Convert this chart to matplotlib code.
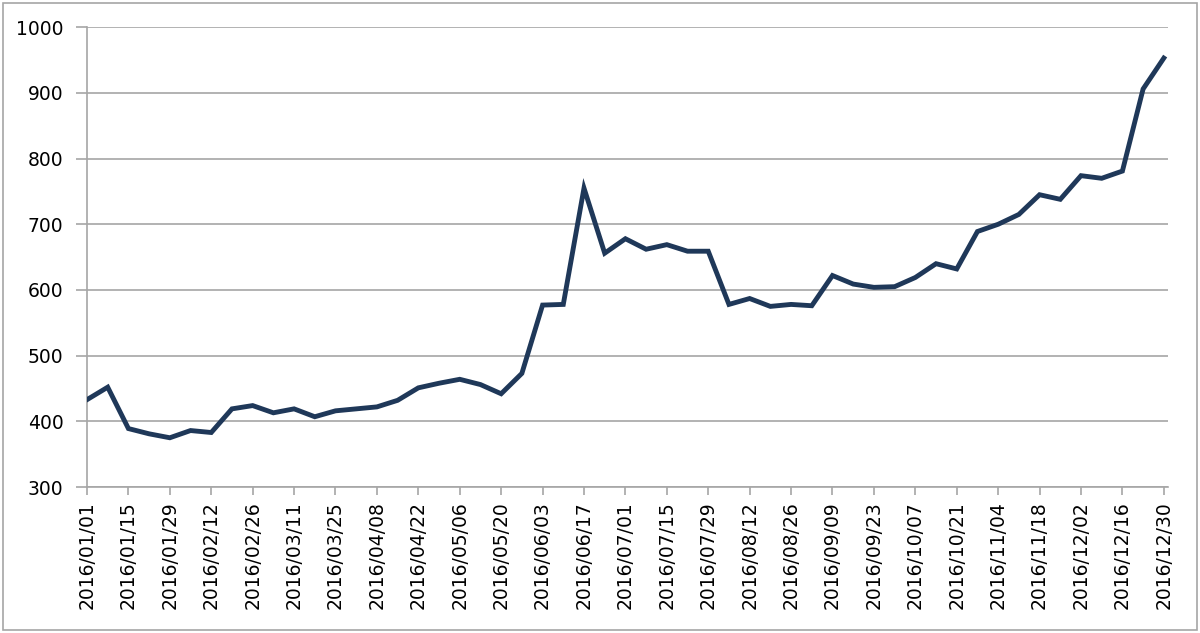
import pandas as pd
import matplotlib
matplotlib.use("Agg")
import matplotlib.pyplot as plt
from matplotlib.patches import Rectangle

# weekly values
dates = pd.date_range("2016-01-01", periods=53, freq="7D")
values = [433, 452, 389, 381, 375, 386, 383, 419, 424, 413,
          419, 407, 416, 419, 422, 432, 451, 458, 464, 456,
          442, 473, 577, 578, 755, 656, 678, 662, 669, 659,
          659, 578, 587, 575, 578, 576, 622, 609, 604, 605,
          619, 640, 632, 689, 700, 715, 745, 738, 774, 770,
          781, 906, 953]
date_labels = [d.strftime("%Y/%m/%d") for d in dates]
y_ticks = [300, 400, 500, 600, 700, 800, 900, 1000]

line_color = "#1F3859"
grid_color = "#A6A6A6"

plt.rcParams['font.family'] = ['DejaVu Sans']

fig = plt.figure(figsize=(12, 6.33), dpi=100)
ax = fig.add_axes([0.0725, 0.2306, 0.9008, 0.7264])

x = list(range(len(values)))
ax.plot(x, values, color=line_color, linewidth=3.5, solid_joinstyle="miter", zorder=3)

ax.set_xlim(0, 52.2)
ax.set_ylim(300, 1000)
ax.set_yticks(y_ticks)
ax.set_xticks(x[::2])
ax.set_xticklabels(date_labels[::2], rotation=90)

ax.yaxis.grid(True, color=grid_color, linewidth=1.2)
ax.set_axisbelow(True)
for side in ["top", "right"]:
    ax.spines[side].set_visible(False)
for side in ["left", "bottom"]:
    ax.spines[side].set_color(grid_color)
    ax.spines[side].set_linewidth(1.2)

ax.tick_params(axis="y", length=8, width=1.2, color=grid_color, labelsize=13.5, pad=9)
ax.tick_params(axis="x", length=6, width=1.2, color=grid_color, labelsize=13.5, pad=4)

# outer chart border
fig.patches.append(Rectangle((0.0025, 0.005), 0.995, 0.99, transform=fig.transFigure,
                             fill=False, edgecolor=grid_color, linewidth=1.2))

fig.savefig("out.png", dpi=100)
